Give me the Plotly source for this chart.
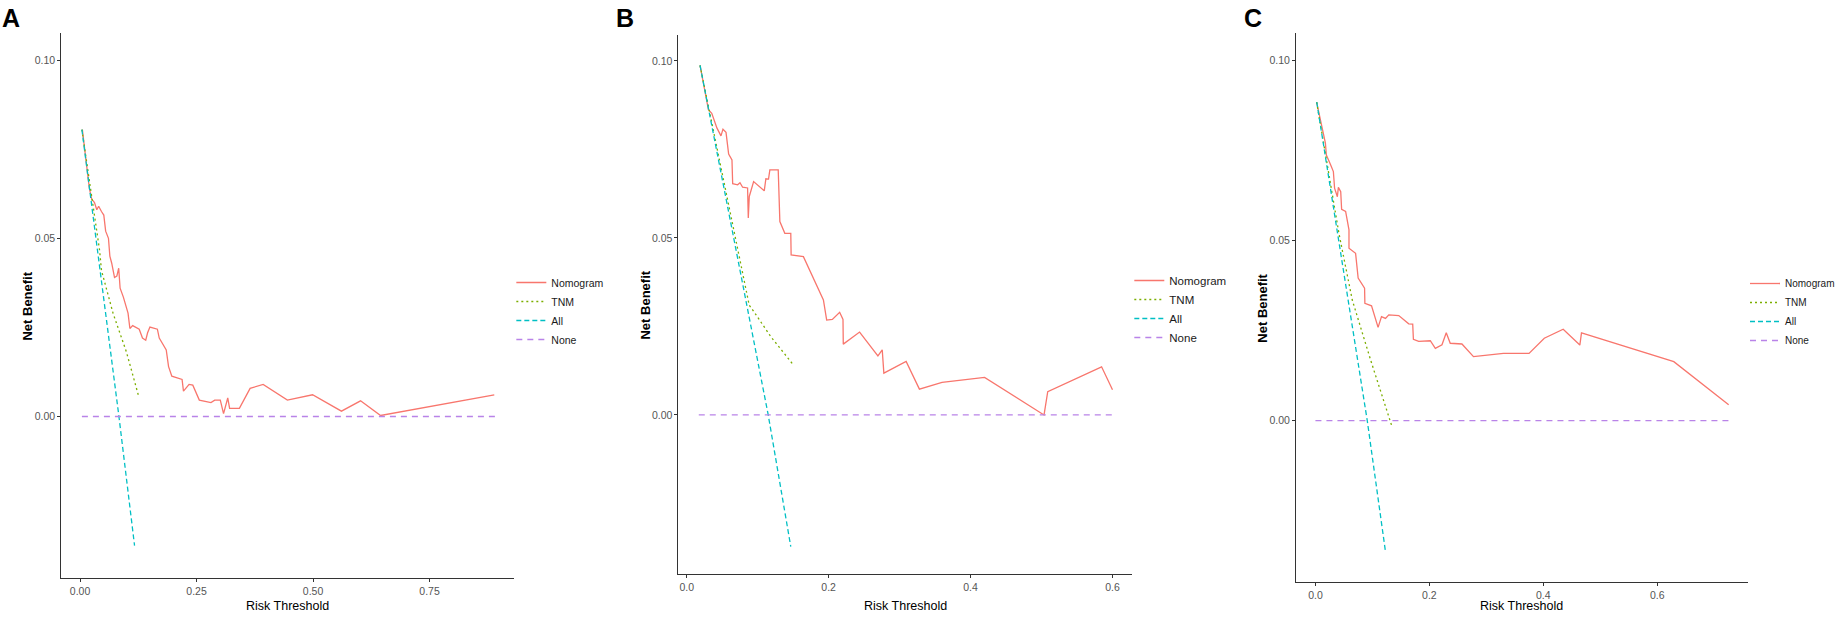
import plotly.graph_objects as go

# --- Panel A ---
a_nomo_thr = [0.005, 0.011, 0.014, 0.020, 0.025, 0.031, 0.036, 0.040, 0.046, 0.051, 0.055, 0.061, 0.064,
              0.068, 0.074, 0.079, 0.083, 0.086, 0.093, 0.103, 0.107, 0.113, 0.127, 0.134, 0.141, 0.145,
              0.150, 0.166, 0.170, 0.185, 0.190, 0.197, 0.219, 0.222, 0.234, 0.242, 0.256, 0.281, 0.289,
              0.301, 0.308, 0.317, 0.321, 0.342, 0.365, 0.393, 0.445, 0.499, 0.561, 0.602, 0.645, 0.889]
a_nomo_nb = [0.0805, 0.074, 0.070, 0.064, 0.061, 0.060, 0.058, 0.059, 0.0575, 0.0565, 0.052, 0.050, 0.045,
             0.043, 0.039, 0.0394, 0.0416, 0.036, 0.0335, 0.029, 0.0247, 0.0255, 0.0245, 0.022, 0.0214,
             0.0235, 0.0251, 0.0245, 0.022, 0.0187, 0.014, 0.0113, 0.0104, 0.0071, 0.009, 0.0088, 0.0046,
             0.0039, 0.0046, 0.0046, 0.0008, 0.0052, 0.0023, 0.0023, 0.0079, 0.009, 0.0046, 0.0061, 0.0015,
             0.0044, 0.0003, 0.0061]
a_tnm_thr = [0.004, 0.042, 0.046, 0.071, 0.0996, 0.126]
a_tnm_nb = [0.0805, 0.0466, 0.041, 0.0289, 0.0181, 0.0056]
a_all_thr = [0.004, 0.0835, 0.117]
a_all_nb = [0.0805, 0.0, -0.0362]
a_none_thr = [0.004, 0.891]
a_none_nb = [0.0, 0.0]

# --- Panel B ---
b_nomo_thr = [0.0187, 0.0305, 0.0352, 0.0426, 0.0482, 0.0510, 0.0553, 0.059, 0.0637, 0.0647, 0.0717, 0.075,
              0.0787, 0.0857, 0.0867, 0.0881, 0.0942, 0.1092, 0.1115, 0.1152, 0.1171, 0.1289, 0.1312, 0.1382,
              0.1466, 0.1471, 0.1644, 0.1926, 0.1972, 0.2052, 0.2155, 0.2202, 0.2206, 0.2436, 0.2694, 0.2755,
              0.2778, 0.3092, 0.3279, 0.3598, 0.4198, 0.5036, 0.5088, 0.5847, 0.6001]
b_nomo_nb = [0.0987, 0.0862, 0.0852, 0.0810, 0.0788, 0.0807, 0.0798, 0.0737, 0.0720, 0.0653, 0.0650, 0.0656,
             0.0643, 0.0641, 0.0556, 0.0617, 0.0659, 0.0633, 0.0667, 0.0666, 0.0692, 0.0692, 0.0546, 0.0513,
             0.0513, 0.0452, 0.0447, 0.0325, 0.0268, 0.0270, 0.0290, 0.0270, 0.0200, 0.0234, 0.0167, 0.0184,
             0.0118, 0.0151, 0.0073, 0.0092, 0.0106, 0.0000, 0.0066, 0.0136, 0.0071]
b_tnm_thr = [0.0187, 0.0637, 0.088, 0.0928, 0.1185, 0.1504]
b_tnm_nb = [0.0987, 0.0546, 0.031, 0.0297, 0.0221, 0.0141]
b_all_thr = [0.0187, 0.1148, 0.1466]
b_all_nb = [0.0987, 0.0, -0.0372]
b_none_thr = [0.0169, 0.600]
b_none_nb = [0.0, 0.0]

# --- Panel C ---
c_nomo_thr = [0.0021, 0.0093, 0.0151, 0.0175, 0.0192, 0.0268, 0.0315, 0.0336, 0.0385, 0.0403, 0.0444, 0.046,
              0.053, 0.0589, 0.0589, 0.0705, 0.075, 0.0863, 0.0868, 0.0985, 0.110, 0.116, 0.123, 0.1288,
              0.1463, 0.1638, 0.1708, 0.172, 0.1813, 0.2017, 0.2105, 0.2222, 0.2297, 0.2367, 0.2572, 0.2775,
              0.330, 0.375, 0.4018, 0.435, 0.4642, 0.4671, 0.6292, 0.7255]
c_nomo_nb = [0.0885, 0.0826, 0.0789, 0.0771, 0.0738, 0.0710, 0.0692, 0.0646, 0.0622, 0.0648, 0.0636, 0.0587,
             0.0581, 0.053, 0.0479, 0.0465, 0.0396, 0.0368, 0.0326, 0.0319, 0.0259, 0.0289, 0.0284, 0.0294,
             0.0292, 0.0269, 0.0268, 0.0226, 0.0220, 0.0222, 0.0201, 0.0211, 0.0244, 0.0215, 0.0213, 0.0178,
             0.0187, 0.0187, 0.0229, 0.0254, 0.0210, 0.0244, 0.0164, 0.0044]
c_tnm_thr = [0.0021, 0.0413, 0.0647, 0.0968, 0.1335]
c_tnm_nb = [0.0885, 0.052, 0.0335, 0.0169, -0.0012]
c_all_thr = [0.0023, 0.091, 0.123]
c_all_nb = [0.0885, 0.0, -0.0364]
c_none_thr = [0.0, 0.7255]
c_none_nb = [0.0, 0.0]

W, H = 1840, 617
FONT = 'Liberation Sans, Arial, sans-serif'

estilos = {
    'Nomogram': dict(color='#F8766D', dash='solid'),
    'TNM': dict(color='#7CAE00', dash='2px,3px'),
    'All': dict(color='#00BFC4', dash='5px,3px'),
    'None': dict(color='#B983E8', dash='6px,5px'),
}

paneles = [
    dict(letra='A', ax='', leg='legend',
         series={'Nomogram': (a_nomo_thr, a_nomo_nb), 'TNM': (a_tnm_thr, a_tnm_nb),
                 'All': (a_all_thr, a_all_nb), 'None': (a_none_thr, a_none_nb)},
         px=(61.5, 516), py=(33.3, 578), xr=[-0.0402, 0.932], yr=[-0.0453, 0.1075],
         xticks=[0, 0.25, 0.5, 0.75], xfmt='.2f', leg_x=513, leg_y=311, leg_size=10.5,
         ytitle_x=28, letra_x=0),
    dict(letra='B', ax='2', leg='legend2',
         series={'Nomogram': (b_nomo_thr, b_nomo_nb), 'TNM': (b_tnm_thr, b_tnm_nb),
                 'All': (b_all_thr, b_all_nb), 'None': (b_none_thr, b_none_nb)},
         px=(680.7, 1136), py=(35, 574.3), xr=[-0.0117, 0.628], yr=[-0.045, 0.1073],
         xticks=[0, 0.2, 0.4, 0.6], xfmt='.1f', leg_x=1133, leg_y=309, leg_size=11.5,
         ytitle_x=648, letra_x=616),
    dict(letra='C', ax='3', leg='legend3',
         series={'Nomogram': (c_nomo_thr, c_nomo_nb), 'TNM': (c_tnm_thr, c_tnm_nb),
                 'All': (c_all_thr, c_all_nb), 'None': (c_none_thr, c_none_nb)},
         px=(1300.3, 1753.3), py=(33.3, 582.3), xr=[-0.034, 0.7587], yr=[-0.0449, 0.1076],
         xticks=[0, 0.2, 0.4, 0.6], xfmt='.1f', leg_x=1751, leg_y=312, leg_size=10,
         ytitle_x=1267, letra_x=1246),
]

fig = go.Figure()
layout = dict(width=W, height=H, margin=dict(l=0, r=0, t=0, b=0),
              paper_bgcolor='white', plot_bgcolor='white',
              font=dict(family=FONT), annotations=[])

for p in paneles:
    for nombre, (x, y) in p['series'].items():
        fig.add_trace(go.Scatter(
            x=x, y=y, mode='lines', name=nombre,
            line=dict(width=1.3, **estilos[nombre]),
            xaxis='x' + p['ax'], yaxis='y' + p['ax'], legend=p['leg']
        ))

    eje = dict(showgrid=False, zeroline=False, showline=True, linecolor='#333333', linewidth=1,
               ticks='outside', ticklen=3, tickcolor='#333333',
               tickfont=dict(family=FONT, size=10.5, color='#555555'))
    layout['xaxis' + p['ax']] = dict(eje, domain=[p['px'][0] / W, p['px'][1] / W], range=p['xr'],
                                    tickvals=p['xticks'], tickformat=p['xfmt'],
                                    anchor='y' + p['ax'])
    layout['yaxis' + p['ax']] = dict(eje, domain=[1 - p['py'][1] / H, 1 - p['py'][0] / H], range=p['yr'],
                                    tickvals=[0, 0.05, 0.10], tickformat='.2f',
                                    anchor='x' + p['ax'])
    layout[p['leg']] = dict(x=p['leg_x'] / W, y=1 - p['leg_y'] / H, xanchor='left', yanchor='middle',
                            bgcolor='rgba(0,0,0,0)', tracegroupgap=0,
                            font=dict(family=FONT, size=p['leg_size'], color='#1a1a1a'))

    # titulos de ejes y letra del panel
    layout['annotations'] += [
        dict(text='Risk Threshold', x=(p['px'][0] + p['px'][1]) / 2 / W, y=1 - 606 / H,
             xref='paper', yref='paper', showarrow=False, xanchor='center', yanchor='middle',
             font=dict(family=FONT, size=12.5, color='black')),
        dict(text='<b>Net Benefit</b>', x=p['ytitle_x'] / W, y=1 - (p['py'][0] + p['py'][1]) / 2 / H,
             xref='paper', yref='paper', showarrow=False, textangle=-90,
             xanchor='center', yanchor='middle', font=dict(family=FONT, size=13, color='black')),
        dict(text='<b>' + p['letra'] + '</b>', x=p['letra_x'] / W, y=1 - 2 / H,
             xref='paper', yref='paper', showarrow=False, xanchor='left', yanchor='top',
             font=dict(family=FONT, size=25, color='black')),
    ]

fig.update_layout(**layout)
# quitar el margen por defecto del body para que la figura ocupe la ventana
fig.write_html("out.html", config={'displayModeBar': False},
               post_script="document.body.style.margin='0';document.body.style.overflow='hidden';")
